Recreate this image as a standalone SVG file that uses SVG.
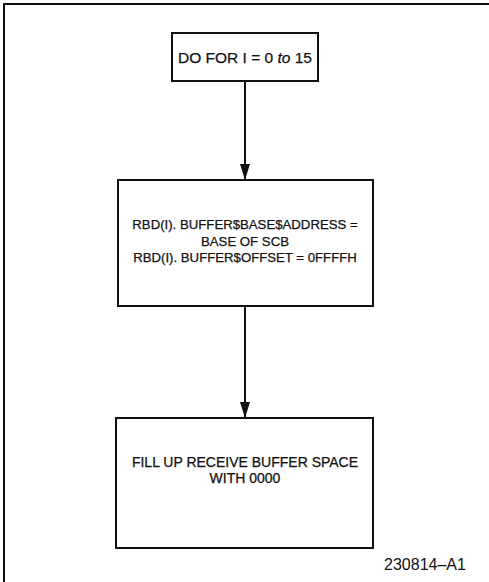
<svg xmlns="http://www.w3.org/2000/svg" width="489" height="582" viewBox="0 0 489 582">
<style>
.box{fill:#fff;stroke:#111;stroke-width:2}
.t{font-family:"Liberation Sans",Arial,sans-serif;font-size:14px;fill:#111;stroke:#111;stroke-width:0.25;text-anchor:middle}
.c{stroke:#111;stroke-width:2;fill:none}
</style>
<rect width="489" height="582" fill="#fff"/>
<path d="M4,582 V4 H489" fill="none" stroke="#111" stroke-width="2"/>
<g id="connectors">
<line class="c" x1="245" y1="81" x2="245" y2="180"/>
<path d="M240,164 L245,180 L250,164 Z" fill="#111"/>
<line class="c" x1="245" y1="306" x2="245" y2="418"/>
<path d="M240,402 L245,418 L250,402 Z" fill="#111"/>
</g>
<g id="n1">
<rect class="box" x="172" y="33" width="146" height="48"/>
<text class="t" x="245" y="63" style="font-size:15.5px">DO FOR I = 0 <tspan font-style="italic">to</tspan> 15</text>
</g>
<g id="n2">
<rect class="box" x="118" y="180" width="255" height="126"/>
<text class="t" x="245" y="229" style="font-size:13.2px">RBD(I). BUFFER$BASE$ADDRESS =</text>
<text class="t" x="245" y="246" style="font-size:13.2px">BASE OF SCB</text>
<text class="t" x="245" y="262" style="font-size:13.2px">RBD(I). BUFFER$OFFSET = 0FFFFH</text>
</g>
<g id="n3">
<rect class="box" x="116" y="418" width="257" height="130"/>
<text class="t" x="245" y="467">FILL UP RECEIVE BUFFER SPACE</text>
<text class="t" x="245" y="483">WITH 0000</text>
</g>
<text class="t" x="425" y="570" style="font-size:16px;stroke-width:0">230814–A1</text>
</svg>
